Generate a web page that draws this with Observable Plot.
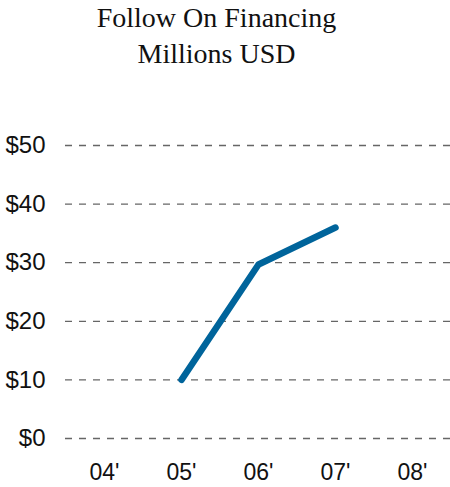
<!DOCTYPE html>
<html>
<head>
<meta charset="utf-8">
<script src="https://cdn.jsdelivr.net/npm/d3@7"></script>
<script src="https://cdn.jsdelivr.net/npm/@observablehq/plot@0.6"></script>
<style>
  html, body { margin: 0; padding: 0; background: #fff; }
  #title { width: 433px; text-align: center; font-family: "Liberation Serif", "DejaVu Serif", serif; font-size: 28px; line-height: 36px; color: #111; height: 80px; box-sizing: border-box; }
</style>
</head>
<body>
<div id="title">Follow On Financing<br>Millions USD</div>
<div id="chart"></div>
<script>
const years = ["04'", "05'", "06'", "07'", "08'"];
const lineYears = ["05'", "06'", "07'"];
const values = [10, 29.7, 36];
const yTicks = [0, 10, 20, 30, 40, 50];

const data = lineYears.map((y, i) => ({year: y, value: values[i]}));

const chart = Plot.plot({
  width: 450,
  height: 407,
  marginTop: 65,
  marginBottom: 49,
  marginLeft: 65,
  marginRight: 0,
  style: {fontFamily: "'Liberation Sans', Arial, sans-serif", color: "#111", background: "#fff"},
  x: {type: "point", domain: years, padding: 0.5},
  y: {domain: [0, 50]},
  marks: [
    Plot.ruleY(yTicks, {stroke: "#666", strokeWidth: 1.3, strokeDasharray: "7,7"}),
    Plot.axisY(yTicks, {tickSize: 0, tickPadding: 20, tickFormat: d => "$" + d, label: null, fill: "#111", fontSize: 24}),
    Plot.axisX(years, {tickSize: 0, tickPadding: 25, label: null, fill: "#111", fontSize: 23}),
    Plot.line(data, {x: "year", y: "value", stroke: "#00649b", strokeWidth: 6.5, strokeLinecap: "round", strokeLinejoin: "round"})
  ]
});
document.getElementById("chart").appendChild(chart);
</script>
</body>
</html>
